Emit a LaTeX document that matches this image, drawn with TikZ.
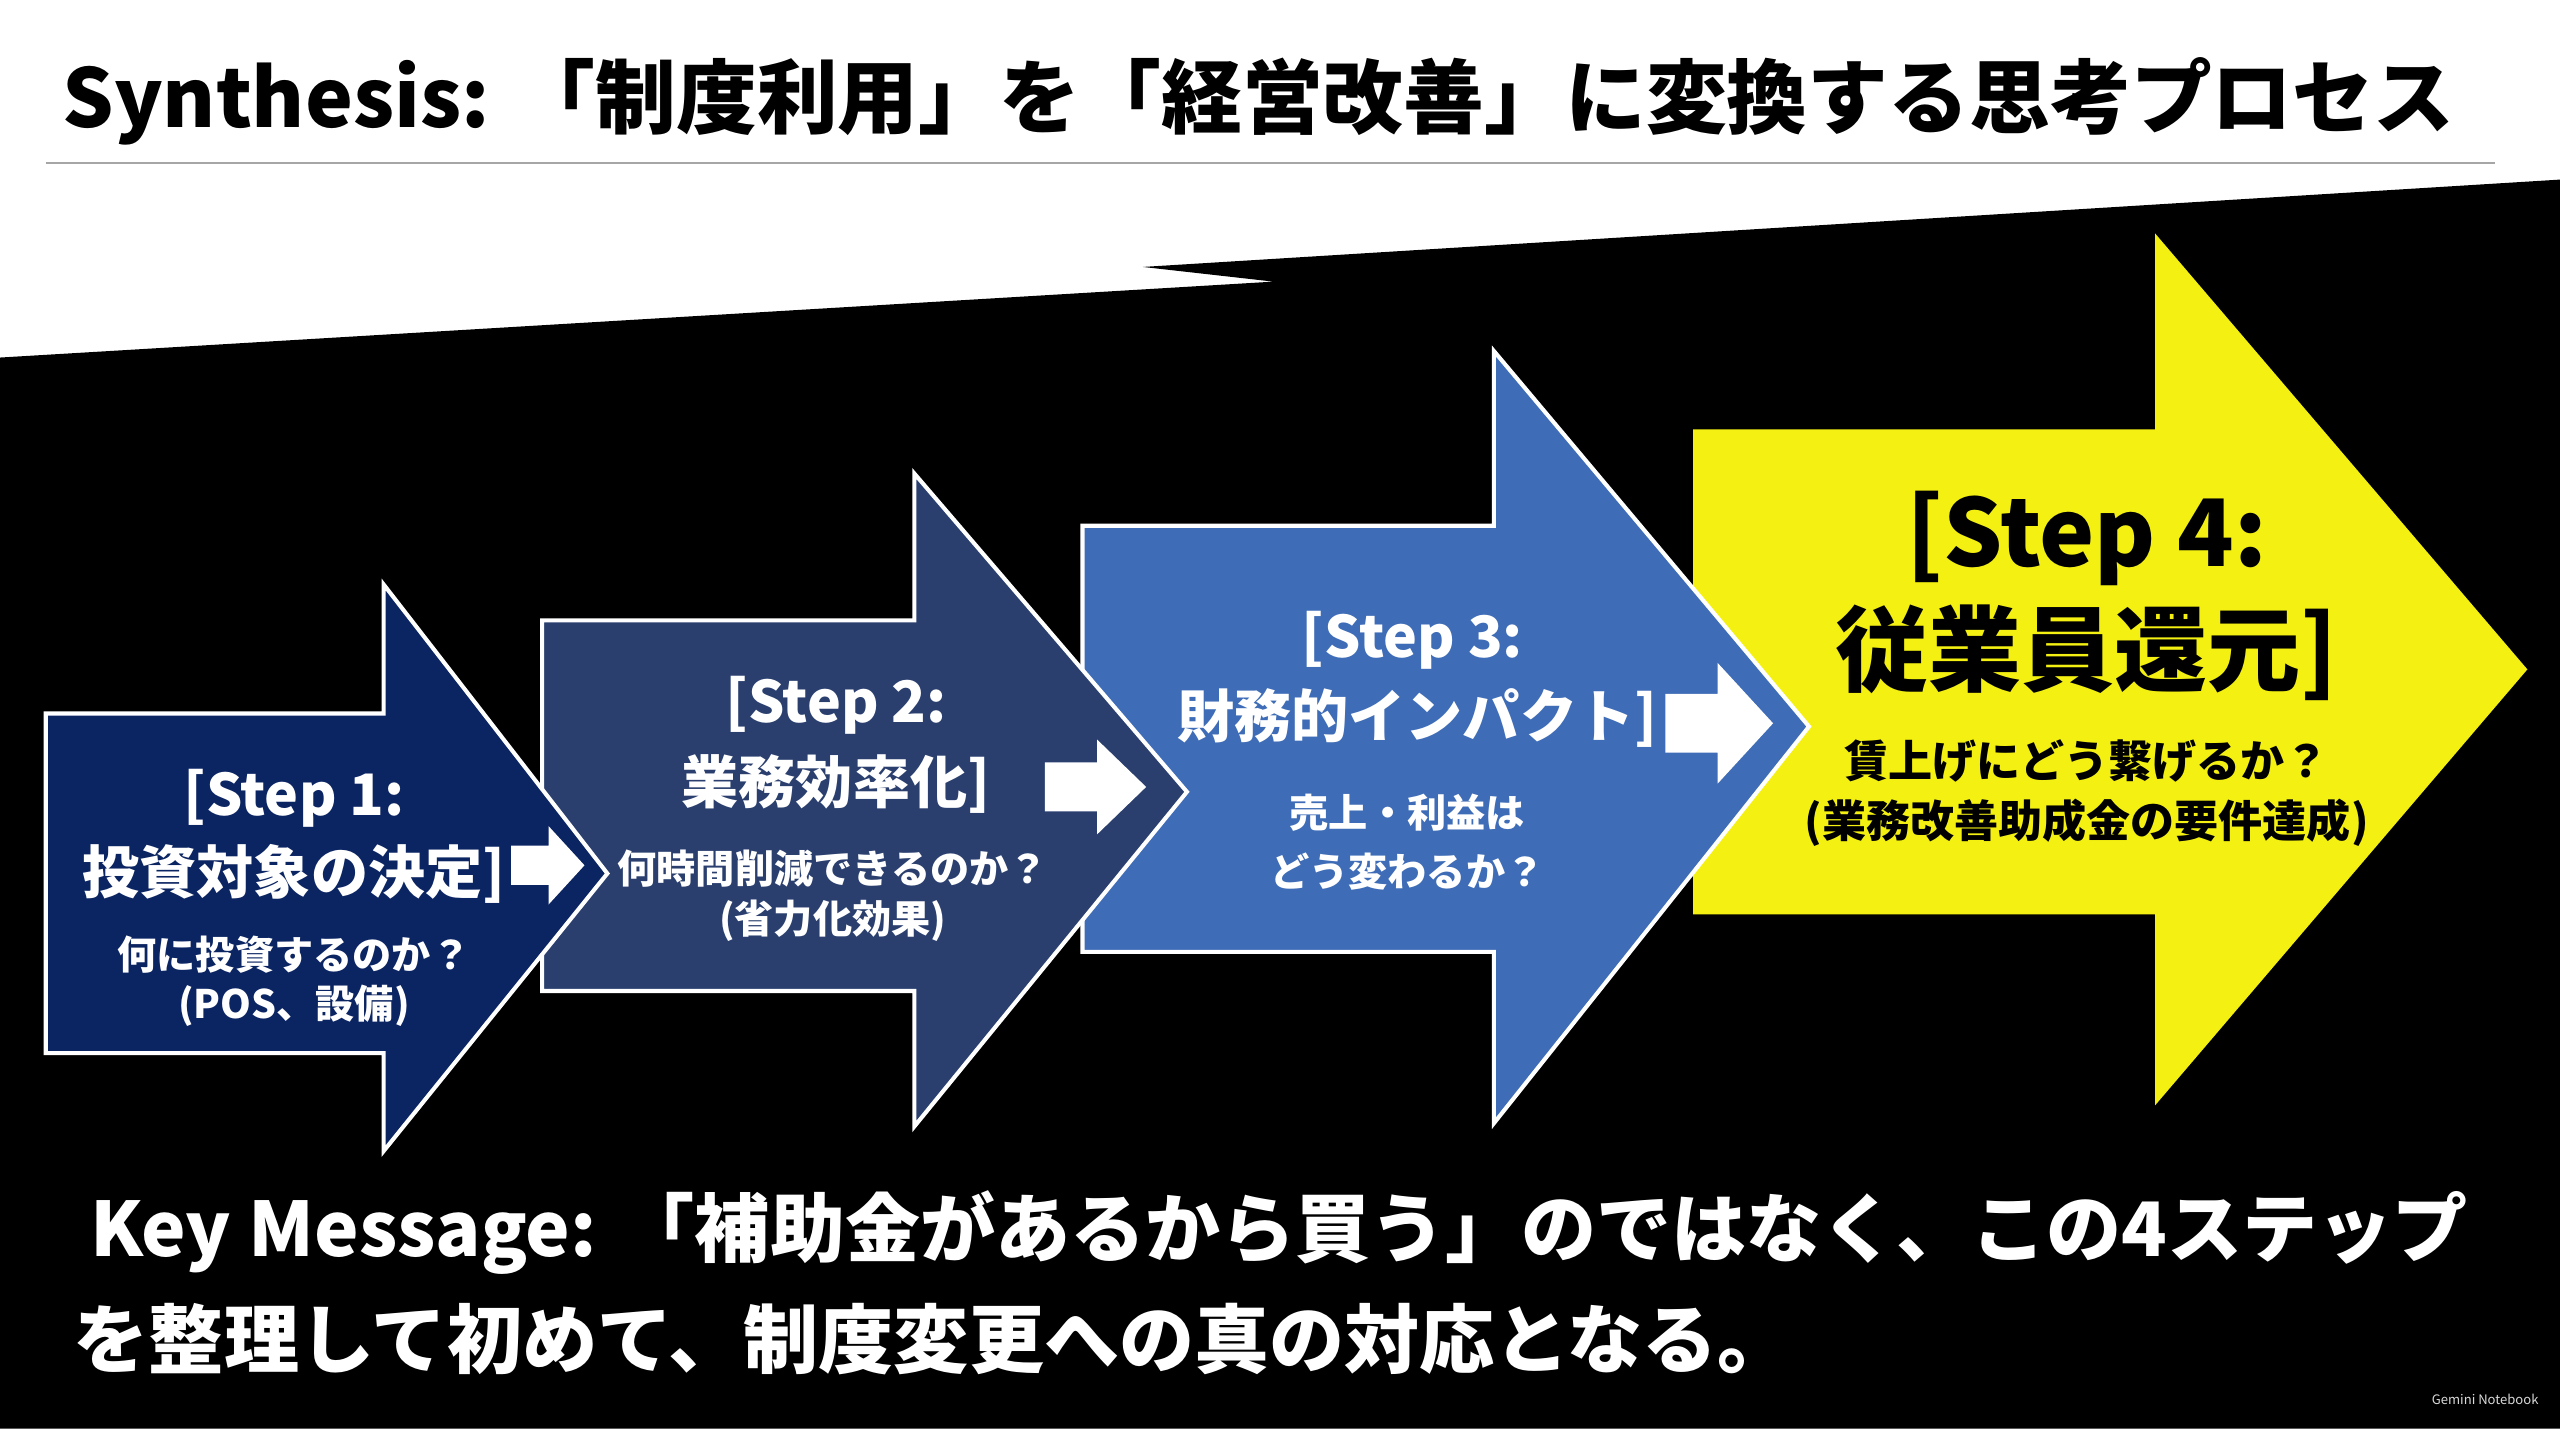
\documentclass[tikz,border=0pt]{standalone}
\usepackage{fontspec}
\setmainfont{Noto Sans CJK JP}
\definecolor{sa}{HTML}{0B2462}
\definecolor{sb}{HTML}{2A3F6E}
\definecolor{sc}{HTML}{3E6CB6}
\definecolor{sd}{HTML}{F4F112}
\begin{document}
\begin{tikzpicture}[x=1pt,y=-1pt,
  big/.style={font=\bfseries\fontsize{#1}{#1}\selectfont, inner sep=0pt},
  arr/.style={line width=2.5pt, draw=white, line join=miter},
  txt/.style={text=white, align=center}]
\useasboundingbox (0,0) rectangle (1568,875);
\fill[white] (0,0) rectangle (1568,875);
\fill[black] (0,219) -- (780,172.5) -- (700,163.5) -- (1568,110) -- (1568,875) -- (0,875) -- cycle;
\draw[gray!70, line width=1.5pt] (28,100) -- (1528,100);
\node[big=49.5, anchor=west] (title) at (38,62) {Synthesis: 「制度利用」を「経営改善」に変換する思考プロセス};
\fill[sd] (1037,263) -- (1320,263) -- (1320,143) -- (1548,410) -- (1320,677) -- (1320,560) -- (1037,560) -- cycle;
\filldraw[arr, fill=sc] (663,322) -- (915,322) -- (915,215) -- (1108,445) -- (915,688) -- (915,583) -- (663,583) -- cycle;
\filldraw[arr, fill=sb] (332,380) -- (560,380) -- (560,290) -- (727,485) -- (560,690) -- (560,607) -- (332,607) -- cycle;
\filldraw[arr, fill=sa] (28,437) -- (235,437) -- (235,358) -- (372,535) -- (235,705) -- (235,645) -- (28,645) -- cycle;
\fill[white] (313,518) -- (336,518) -- (336,506) -- (358,530) -- (336,554) -- (336,542) -- (313,542) -- cycle;
\fill[white] (640,467) -- (672,467) -- (672,453) -- (702,482) -- (672,511) -- (672,497) -- (640,497) -- cycle;
\fill[white] (1020,425) -- (1052,425) -- (1052,406) -- (1086,443) -- (1052,480) -- (1052,461) -- (1020,461) -- cycle;
\node[big=35, txt] (s1a) at (180,489) {[Step 1:};
\node[big=35, txt] (s1b) at (180,535) {投資対象の決定]};
\node[big=24, txt] (s1c) at (180,585) {何に投資するのか？};
\node[big=24, txt] (s1d) at (180,616) {(POS、設備)};
\node[big=35, txt] (s2a) at (512,432) {[Step 2:};
\node[big=35, txt] (s2b) at (512,480) {業務効率化]};
\node[big=24, txt] (s2c) at (510,532) {何時間削減できるのか？};
\node[big=24, txt] (s2d) at (510,564) {(省力化効果)};
\node[big=35, txt] (s3a) at (865,392) {[Step 3:};
\node[big=35, txt] (s3b) at (868,440) {財務的インパクト]};
\node[big=24, txt] (s3c) at (862,498) {売上・利益は};
\node[big=24, txt] (s3d) at (862,534) {どう変わるか？};
\node[big=57, align=center] (s4a) at (1278,330) {[Step 4:};
\node[big=57, align=center] (s4b) at (1278,400) {従業員還元]};
\node[big=27, align=center] (s4c) at (1278,466) {賃上げにどう繋げるか？};
\node[big=27, align=center] (s4d) at (1278,504) {(業務改善助成金の要件達成)};
\node[big=46, text=white, anchor=west] (k1) at (55,755) {Key Message: 「補助金があるから買う」のではなく、この4ステップ};
\node[big=46, text=white, anchor=west] (k2) at (45,820) {を整理して初めて、制度変更への真の対応となる。};
\node[font=\fontsize{8}{8}\selectfont, text=white!85!black, anchor=east, inner sep=0pt] (gn) at (1555,857) {Gemini Notebook};
\end{tikzpicture}
\end{document}
